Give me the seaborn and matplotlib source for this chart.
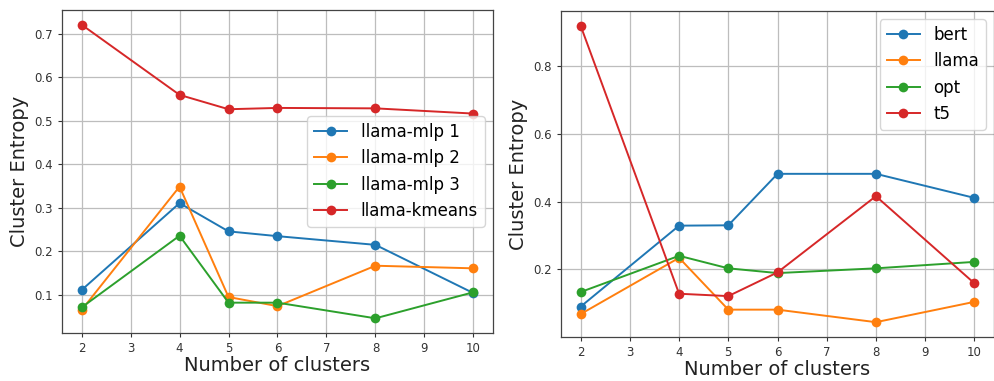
import numpy as np
import pandas as pd
import matplotlib
matplotlib.use("Agg")
import matplotlib.pyplot as plt
import seaborn as sns

clusters = [2, 4, 5, 6, 8, 10]

left_names = ["llama-mlp 1", "llama-mlp 2", "llama-mlp 3", "llama-kmeans"]
mlp1 = [0.111, 0.311, 0.246, 0.235, 0.215, 0.104]
mlp2 = [0.065, 0.349, 0.095, 0.074, 0.167, 0.161]
mlp3 = [0.071, 0.236, 0.082, 0.082, 0.046, 0.106]
kmeans = [0.7215, 0.560, 0.527, 0.530, 0.529, 0.517]

right_names = ["bert", "llama", "opt", "t5"]
bert = [0.090, 0.329, 0.330, 0.482, 0.482, 0.411]
llama = [0.068, 0.234, 0.081, 0.081, 0.044, 0.104]
opt = [0.133, 0.240, 0.203, 0.189, 0.203, 0.222]
t5 = [0.919, 0.128, 0.121, 0.191, 0.416, 0.159]

xticks = list(range(2, 11))


def long_df(names, series):
    rows = []
    for n, s in zip(names, series):
        for x, y in zip(clusters, s):
            rows.append({"k": x, "entropy": y, "model": n})
    return pd.DataFrame(rows)


df_left = long_df(left_names, [mlp1, mlp2, mlp3, kmeans])
df_right = long_df(right_names, [bert, llama, opt, t5])

plt.rcParams["font.family"] = ["DejaVu Sans"]
fig = plt.figure(figsize=(9.95, 3.81), dpi=100)
W, H = 995, 381
ax1 = fig.add_axes([62 / W, (H - 333) / H, (493 - 62) / W, (333 - 10) / H])
ax2 = fig.add_axes([561 / W, (H - 337) / H, (994 - 561) / W, (337 - 11) / H])

palette = sns.color_palette("tab10", 4)

for ax, df, names, loc in [(ax1, df_left, left_names, "center right"),
                           (ax2, df_right, right_names, "upper right")]:
    sns.lineplot(data=df, x="k", y="entropy", hue="model", hue_order=names,
                 palette=palette, marker="o", markersize=7, linewidth=1.4,
                 markeredgewidth=0, ax=ax)
    ax.set_xticks(xticks)
    ax.tick_params(axis="both", labelsize=8.5, length=3, width=0.8,
                   colors="#333333")
    ax.grid(True, color="#bdbdbd", linewidth=0.9)
    ax.set_axisbelow(True)
    for sp in ax.spines.values():
        sp.set_color("#444444")
        sp.set_linewidth(0.9)
    ax.set_xlabel("Number of clusters", fontsize=14, color="#222222",
                  labelpad=1)
    ax.set_ylabel("Cluster Entropy", fontsize=14, color="#222222")
    ax.legend(loc=loc, fontsize=12, framealpha=0.8)
    ax.set_facecolor("white")

fig.savefig("out.png", dpi=100)
